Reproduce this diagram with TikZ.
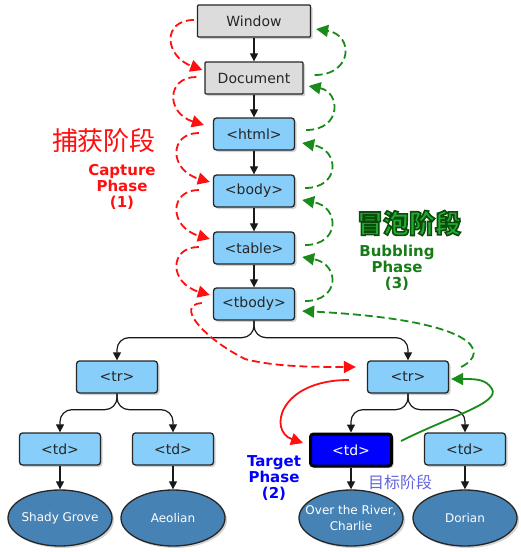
\documentclass[tikz,border=0pt]{standalone}
\usepackage{fontspec}
\setmainfont{DejaVu Sans}
\newfontfamily\cjk{Noto Sans CJK SC}
\usetikzlibrary{shadows,arrows.meta,calc,shapes.geometric}
\definecolor{gbox}{HTML}{DCDCDC}
\definecolor{bbox}{HTML}{87CEFA}
\definecolor{ellc}{HTML}{4682B4}
\definecolor{capred}{HTML}{FF1010}
\definecolor{bubgreen}{HTML}{1A8A1A}
\definecolor{brightgreen}{HTML}{22AA33}
\definecolor{tblue}{HTML}{0000FF}
\definecolor{lblue}{HTML}{6464DC}
\newcommand{\outlinegreen}[1]{\special{pdf:literal direct 2 Tr 1.6 w 0.04 0.30 0.04 RG}#1\special{pdf:literal direct 0 Tr}}
\begin{document}
\begin{tikzpicture}[x=1pt,y=-1pt,
  box/.style={draw=black!85, line width=1.3pt, rounded corners=3pt, minimum height=32pt,
    inner sep=0pt, font=\fontsize{14}{15}\selectfont, text=black!85,
    drop shadow={shadow xshift=2pt,shadow yshift=-2pt,opacity=0.35}},
  graybox/.style={box, fill=gbox, rounded corners=1pt},
  bluebox/.style={box, fill=bbox, minimum width=81pt},
  target/.style={box, fill=tblue, minimum width=81pt, line width=3pt, draw=black, text=white},
  leaf/.style={ellipse, draw=black!85, line width=1.3pt, fill=ellc, minimum width=104pt,
    minimum height=56pt, inner sep=0pt,
    drop shadow={shadow xshift=2pt,shadow yshift=-2pt,opacity=0.35}},
  leaftext/.style={text=white, align=center, font=\fontsize{12}{16}\selectfont},
  tree/.style={draw=black!90, line width=1.2pt, -{Triangle[length=8pt,width=8pt]}},
  capt/.style={draw=capred, line width=1.8pt, dash pattern=on 8pt off 4pt,
    -{Triangle[length=12pt,width=12pt]}},
  bubb/.style={draw=bubgreen, line width=1.8pt, dash pattern=on 8pt off 4pt,
    -{Triangle[length=12pt,width=12pt]}},
  captsolid/.style={draw=capred, line width=1.8pt, -{Triangle[length=12pt,width=12pt]}},
  bubbsolid/.style={draw=bubgreen, line width=1.8pt, -{Triangle[length=12pt,width=12pt]}},
  phase/.style={align=center, font=\bfseries\fontsize{15}{16}\selectfont}
]
\useasboundingbox (0,0) rectangle (521,552);
\fill[white] (0,0) rectangle (521,552);

% nodes
\node[graybox, minimum width=113pt] (win) at (254,21) {Window};
\node[graybox, minimum width=98pt] (doc) at (254,78) {Document};
\node[bluebox] (html) at (254,134) {<html>};
\node[bluebox] (body) at (254,191) {<body>};
\node[bluebox] (tab) at (254,248) {<table>};
\node[bluebox] (tbody) at (254,304) {<tbody>};
\node[bluebox] (trA) at (117,377) {<tr>};
\node[bluebox] (trB) at (408,377) {<tr>};
\node[bluebox] (tdA) at (60,449) {<td>};
\node[bluebox] (tdB) at (173,449) {<td>};
\node[target] (tdT) at (351,450) {<td>};
\node[bluebox] (tdD) at (465,449) {<td>};
\node[leaf, label={[leaftext]center:Shady Grove}] (eA) at (60,518) {};
\node[leaf, label={[leaftext]center:Aeolian}] (eB) at (173,518) {};
\node[leaf, label={[leaftext]center:{Over the River,\\Charlie}}] (eT) at (351,518) {};
\node[leaf, label={[leaftext]center:Dorian}] (eD) at (465,518) {};

% tree edges
\draw[tree] (win) -- (doc);
\draw[tree] (doc) -- (html);
\draw[tree] (html) -- (body);
\draw[tree] (body) -- (tab);
\draw[tree] (tab) -- (tbody);
\draw[tree, rounded corners=12pt] (tbody.south) -- ++(0,17) -| (trA.north);
\draw[tree, rounded corners=12pt] (tbody.south) -- ++(0,17) -| (trB.north);
\draw[tree, rounded corners=12pt] (trA.south) -- ++(0,16) -| (tdA.north);
\draw[tree, rounded corners=12pt] (trA.south) -- ++(0,16) -| (tdB.north);
\draw[tree, rounded corners=12pt] (trB.south) -- ++(0,16) -| (tdT.north);
\draw[tree, rounded corners=12pt] (trB.south) -- ++(0,16) -| (tdD.north);
\draw[tree] (tdA) -- (eA);
\draw[tree] (tdB) -- (eB);
\draw[tree] (tdT) -- (eT);
\draw[tree] (tdD) -- (eD);

% capture phase (red dashed)
\draw[capt] ([xshift=-3pt,yshift=1pt]win.west) .. controls +(-32,0) and +(-38,-14) .. ([xshift=-2pt,yshift=8pt]doc.west);
\draw[capt] ([xshift=-8pt,yshift=1pt]doc.west) .. controls +(-30,0) and +(-38,-12) .. ([xshift=-9pt,yshift=9pt]html.west);
\draw[capt] ([xshift=-14pt,yshift=1pt]html.west) .. controls +(-30,0) and +(-41,-12) .. ([xshift=-3pt,yshift=9pt]body.west);
\draw[capt] ([xshift=-14pt,yshift=1pt]body.west) .. controls +(-30,0) and +(-41,-12) .. ([xshift=-3pt,yshift=9pt]tab.west);
\draw[capt] ([xshift=-14pt,yshift=1pt]tab.west) .. controls +(-30,0) and +(-41,-12) .. ([xshift=-3pt,yshift=9pt]tbody.west);
\draw[capt] ([xshift=-11pt,yshift=1pt]tbody.west) .. controls +(-28,2) and +(-40,-20) .. (245,359) .. controls +(30,8) and +(-40,0) .. ([xshift=-11pt,yshift=10pt]trB.west);

% bubbling phase (green dashed)
\draw[bubb] ([xshift=11pt,yshift=3pt]doc.east) .. controls +(38,0) and +(38,6) .. ([xshift=5pt,yshift=-8pt]win.east);
\draw[bubb] ([xshift=11pt,yshift=4pt]html.east) .. controls +(36,0) and +(32,6) .. ([xshift=5pt,yshift=-8pt]doc.east);
\draw[bubb] ([xshift=10pt,yshift=3pt]body.east) .. controls +(35,0) and +(38,7) .. ([xshift=7pt,yshift=-9pt]html.east);
\draw[bubb] ([xshift=10pt,yshift=3pt]tab.east) .. controls +(35,0) and +(38,7) .. ([xshift=7pt,yshift=-9pt]body.east);
\draw[bubb] ([xshift=10pt,yshift=3pt]tbody.east) .. controls +(35,0) and +(38,7) .. ([xshift=7pt,yshift=-9pt]tab.east);
\draw[bubb] ([xshift=12pt,yshift=10pt]trB.east) .. controls +(30,-15) and +(175,9) .. ([xshift=7pt,yshift=-7pt]tbody.east);

% target phase (solid)
\draw[captsolid] ([xshift=-18pt,yshift=-3pt]trB.west) .. controls +(-70,0) and +(-35,-12) .. ([xshift=-6pt,yshift=7pt]tdT.west);
\draw[bubbsolid] ([xshift=8pt,yshift=9pt]tdT.east) .. controls +(50,-25) and +(8,14) .. (492,389) .. controls +(-6,-10) and +(25,0) .. ([xshift=2pt,yshift=-2pt]trB.east);

% labels
\node[font=\cjk\fontsize{26}{26}\selectfont, text=capred] (capcn) at (104,141) {捕获阶段};
\node[phase, text=capred] (capen) at (122,187) {Capture\\Phase\\(1)};

\node[font=\cjk\bfseries\fontsize{26}{26}\selectfont, text=brightgreen] (bubcn) at (409,223) {\outlinegreen{冒泡阶段}};
\node[phase, text=bubgreen!90!black] (buben) at (397,268) {Bubbling\\Phase\\(3)};

\node[phase, text=tblue] (taren) at (274,478) {Target\\Phase\\(2)};
\node[font=\cjk\fontsize{16}{16}\selectfont, text=lblue] (tarcn) at (400,482) {目标阶段};
\end{tikzpicture}
\end{document}
